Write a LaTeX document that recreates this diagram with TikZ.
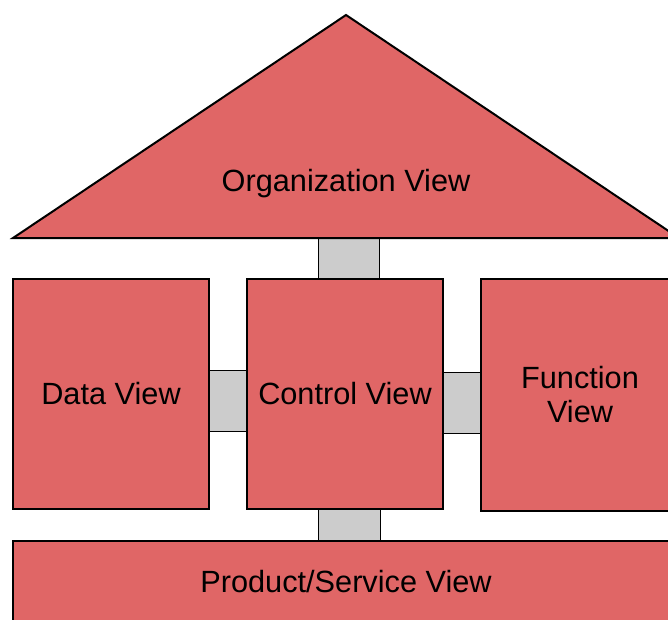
\documentclass[tikz,border=0pt]{standalone}
\usepackage{fontspec}
\setmainfont{Liberation Sans}
\usetikzlibrary{backgrounds,calc}
\definecolor{viewred}{HTML}{E06666}
\definecolor{linkgray}{HTML}{CCCCCC}
\begin{document}
\begin{tikzpicture}[x=1pt,y=-1pt,line width=2pt,
  view/.style={draw=black,fill=viewred,inner sep=0pt,align=center,
    font=\fontsize{30.7}{34}\selectfont},
  label/.style={inner sep=0pt,align=center,font=\fontsize{30.7}{34}\selectfont},
  link/.style={draw=black,fill=linkgray}]
\clip (0,0) rectangle (668,619);
% roof
\coordinate (roofL) at (13,238);
\coordinate (roofT) at (346,15);
\coordinate (roofR) at (679,238);
\draw[fill=viewred,line join=miter] (roofL) -- (roofT) -- (roofR) -- cycle;
\node[label] (org) at (346,184) {Organization View};
% columns and floor
\node[view,minimum width=196,minimum height=230] (data) at (111,394) {Data View};
\node[view,minimum width=196,minimum height=230] (control) at (345,394) {Control View};
\node[view,minimum width=198,minimum height=232] (function) at (580,395) {Function\\View};
\node[view,minimum width=666,minimum height=82] (product) at (346,582) {Product/Service View};
% links between the views
\begin{scope}[on background layer]
  \draw[link] ($(control.north)+(-27,4)$) rectangle ($(roofL)!(control.north)!(roofR)+(34,-4)$);
  \draw[link] ($(data.east)+(-4,-24)$) rectangle ($(control.west)+(4,37)$);
  \draw[link] ($(control.east)+(-4,-22)$) rectangle ($(function.west)+(4,38)$);
  \draw[link] ($(control.south)+(-27,-4)$) rectangle ($(product.north)+(34,4)$);
\end{scope}
\end{tikzpicture}
\end{document}
